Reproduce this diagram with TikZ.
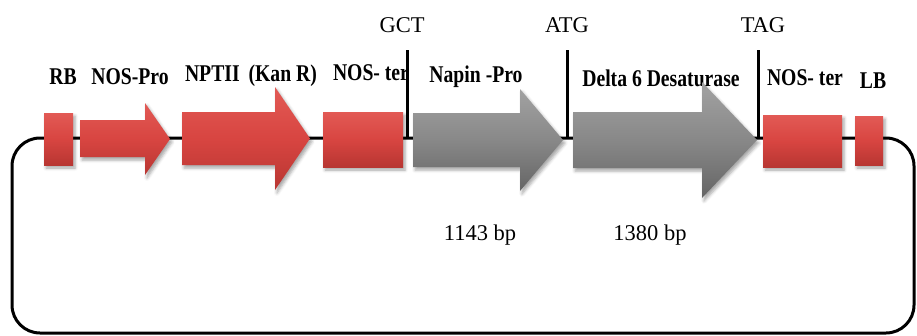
\documentclass[tikz,border=0pt]{standalone}
\usepackage{fontspec}
\setmainfont{Liberation Serif}
\newfontfamily\lblfont[FakeStretch=0.82]{Liberation Serif}
\usetikzlibrary{shadows.blur}

\definecolor{redmid}{HTML}{D84541}
\definecolor{redtop}{HTML}{E25A55}
\definecolor{redbot}{HTML}{B83632}
\definecolor{graymid}{HTML}{888888}
\definecolor{graytop}{HTML}{A2A2A2}
\definecolor{graybot}{HTML}{656565}

\tikzset{
  backbone/.style={line width=3pt, rounded corners=28pt},
  marker/.style={line width=3pt},
  partshadow/.style={blur shadow={shadow xshift=2pt, shadow yshift=-3pt,
      shadow blur radius=3pt, shadow opacity=35}},
  redpart/.style={partshadow, top color=redtop, bottom color=redbot, middle color=redmid},
  graypart/.style={partshadow, top color=graytop, bottom color=graybot, middle color=graymid},
  redbox/.style={redpart, rectangle, inner sep=0pt},
  partlabel/.style={font=\lblfont\bfseries\fontsize{24}{24}\selectfont, anchor=base, inner sep=0pt},
  sitelabel/.style={font=\fontsize{22.5}{22.5}\selectfont, anchor=base, inner sep=0pt},
}

% block arrow: style, shaft start, head start, tip, shaft top, shaft bottom, head top, head bottom
\newcommand{\blockarrow}[8]{%
  \shade[#1] (#2,#5) -- (#3,#5) -- (#3,#7) -- (#4,{(#7+#8)/2}) -- (#3,#8)
    -- (#3,#6) -- (#2,#6) -- cycle;}

\begin{document}
\begin{tikzpicture}[x=1pt,y=-1pt]
  \useasboundingbox (0,0) rectangle (917,335);

  % plasmid backbone
  \draw[backbone] (12,138) rectangle (914,333);

  % labels of the parts
  \node[partlabel] (lrb)    at (63,84)  {RB};
  \node[partlabel] (lnpro)  at (130,84) {NOS-Pro};
  \node[partlabel] (lnpt)   at (251,81) {NPTII\, (Kan R)};
  \node[partlabel] (lnter)  at (371,80) {NOS- ter};
  \node[partlabel] (lnap)   at (476,82) {Napin -Pro};
  \node[partlabel] (ldel)   at (661,86) {Delta 6 Desaturase};
  \node[partlabel] (lnter2) at (805,85) {NOS- ter};
  \node[partlabel] (llb)    at (873,88) {LB};

  % sites and sizes
  \node[sitelabel] (gct) at (402,32) {GCT};
  \node[sitelabel] (atg) at (567,32) {ATG};
  \node[sitelabel] (tag) at (763,32) {TAG};
  \node[sitelabel] (s1)  at (480,240) {1143 bp};
  \node[sitelabel] (s2)  at (650,240) {1380 bp};

  % red elements
  \node[redbox, minimum width=29pt, minimum height=52pt] (rb) at (58.5,139) {};
  \blockarrow{redpart}{80}{145}{170}{120}{157}{103}{175}
  \blockarrow{redpart}{182}{275}{310}{112}{165}{87}{190}
  \node[redbox, minimum width=80pt, minimum height=55pt] (nter) at (363,139.5) {};

  % gray elements
  \blockarrow{graypart}{413}{520}{563}{113}{167}{89}{191}
  \blockarrow{graypart}{573}{702}{757}{112}{168}{82}{198}

  \node[redbox, minimum width=79pt, minimum height=52pt] (nter2) at (802.5,141) {};
  \node[redbox, minimum width=28pt, minimum height=49pt] (lb) at (869,140.5) {};

  % site markers
  \coordinate (gcttop) at (407,50);  \coordinate (gctbot) at (407,138);
  \coordinate (atgtop) at (567,50);  \coordinate (atgbot) at (567,138);
  \coordinate (tagtop) at (758,50);  \coordinate (tagbot) at (758,138);
  \draw[marker] (gcttop) -- (gctbot);
  \draw[marker] (atgtop) -- (atgbot);
  \draw[marker] (tagtop) -- (tagbot);
\end{tikzpicture}
\end{document}
